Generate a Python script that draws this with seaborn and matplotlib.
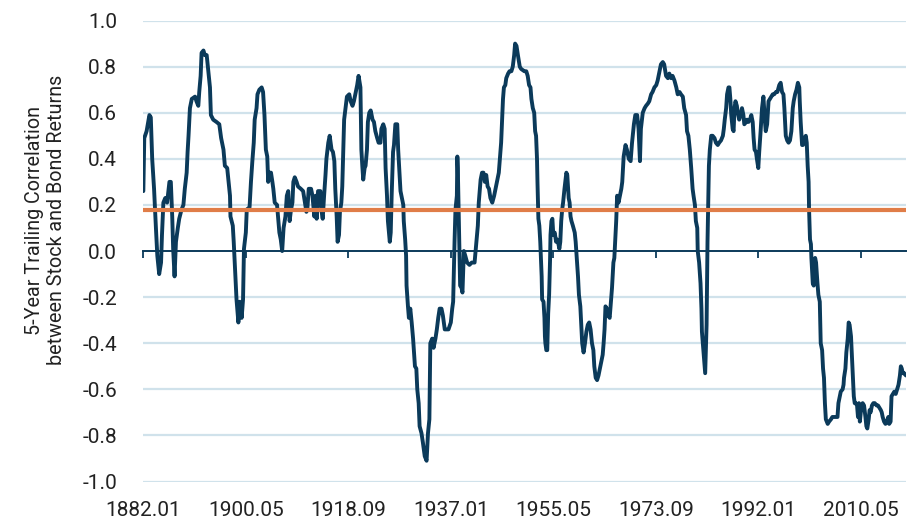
import matplotlib
matplotlib.use("Agg")
import pandas as pd
import matplotlib.pyplot as plt
import seaborn as sns

# months since 1882.01 and the trailing correlation
months = [
    0, 2, 7, 13, 16, 19, 23, 25, 27, 30, 34, 38, 40, 43, 47, 51, 56, 59, 62, 64,
    67, 70, 74, 77, 82, 86, 89, 93, 95, 97, 100, 104, 111, 114, 118, 120, 123, 125, 129, 132,
    136, 139, 143, 145, 150, 157, 163, 167, 172, 175, 180, 183, 186, 187, 192, 194,
    200, 204, 207, 211, 214, 216, 220, 222, 228, 231, 234, 237, 239, 243, 245, 249, 254, 257,
    260, 263, 266, 268, 270, 274, 277, 279, 282, 287, 290, 292, 295, 298, 301, 305, 308, 311,
    314, 317, 320, 322, 325, 329, 332, 338, 343, 347, 350, 352, 355, 360, 363, 367, 370, 372,
    375, 380, 382, 385, 388, 391, 393, 397, 400, 404,
    407, 410, 412, 415, 417, 420, 422, 425, 427, 429, 431, 434, 437, 442, 445, 449, 452, 455,
    459, 462, 466, 468, 470, 472, 475, 477, 480, 482, 485, 488, 492, 495, 498, 502, 505, 509,
    511, 515, 518, 520, 523, 525, 529, 531, 533, 536, 538, 541, 545, 547, 549, 552, 555, 558,
    559, 562, 564, 565, 568, 570, 573, 576, 579, 583, 586, 588, 591, 593, 597, 600, 604,
    608, 611, 614, 616, 620, 623, 627, 630, 633, 636, 640, 643, 647, 650, 655, 660, 663, 665,
    667, 668, 670, 673, 674, 675, 678, 680, 683, 685, 688, 691, 695, 700, 705, 711, 715, 718,
    720, 724, 727, 730, 733, 736, 739, 742, 745, 749, 753, 756, 759, 763, 765, 768, 770, 772,
    774, 777, 779, 783, 786, 790, 793, 796, 798, 801, 804, 808, 811,
    818, 822, 825, 828, 831, 833, 836, 839, 841, 843, 845, 846, 848, 850, 852, 855, 856, 859,
    861, 862, 863, 865, 867, 869, 871, 873, 874, 876, 878, 880, 883, 886, 888, 890, 893, 895,
    897, 899, 901, 904, 908, 910, 913, 915, 917, 919, 922, 926, 928, 930, 933, 935, 938, 940,
    942, 945, 948, 951, 954, 957, 960, 963, 966, 968, 971, 974, 977, 980, 983, 986, 988, 990,
    992, 995, 998, 1001, 1003, 1006, 1009,
    1011, 1015, 1017, 1020, 1023, 1026, 1028, 1031, 1035, 1038, 1042, 1046, 1049, 1053, 1056,
    1060, 1063, 1066, 1068, 1072, 1076, 1079, 1083, 1086, 1090, 1093, 1097, 1101, 1104, 1108,
    1111, 1115, 1118, 1122, 1126, 1129, 1133, 1136, 1140, 1144, 1147, 1151, 1154, 1158, 1161,
    1165, 1167, 1170, 1173, 1176, 1179, 1181, 1184, 1186, 1189, 1190, 1193, 1196, 1198, 1199,
    1201, 1204, 1206, 1207, 1209, 1210, 1211, 1214, 1216,
    1219, 1222, 1226, 1229, 1233, 1236, 1240, 1244, 1246, 1248, 1251, 1253, 1256, 1258, 1260,
    1262, 1265, 1267, 1269, 1271, 1274, 1276, 1279, 1282, 1285, 1288, 1290, 1294, 1296, 1299,
    1302, 1305, 1308, 1310, 1312, 1315, 1317, 1320, 1322, 1325, 1328, 1331, 1334, 1336, 1339,
    1342, 1345, 1348, 1351, 1354, 1358, 1361, 1365, 1368, 1371, 1374, 1376, 1379, 1382, 1385,
    1388, 1391, 1394, 1396, 1399, 1402, 1405, 1408, 1409, 1411, 1414, 1416, 1419, 1422,
    1424, 1426, 1428, 1429, 1431, 1433, 1434, 1437, 1439, 1442, 1444, 1446, 1447, 1449, 1452,
    1454, 1457, 1459, 1461, 1463, 1465, 1469, 1472, 1476, 1479, 1483, 1487, 1490, 1492, 1494,
    1497, 1501, 1503, 1504, 1507, 1509, 1512, 1514, 1516, 1519, 1521, 1523, 1525, 1527, 1529,
    1532, 1534, 1536, 1538, 1540, 1542, 1544, 1547, 1550, 1552, 1554, 1557, 1559, 1561, 1564,
    1567, 1570, 1574, 1577, 1580, 1583, 1585, 1587, 1590, 1593, 1596, 1599, 1601, 1604, 1606,
    1609, 1612, 1615, 1618, 1621, 1624, 1626, 1628, 1630, 1633, 1637,
]
corr = [
    0.26, 0.49, 0.52, 0.59, 0.58, 0.40, 0.27, 0.18, 0.10, -0.02, -0.10, -0.05, 0.07, 0.21, 0.23, 0.21, 0.30, 0.30, 0.15, 0.01,
    -0.11, 0.04, 0.10, 0.14, 0.18, 0.20, 0.27, 0.34, 0.43, 0.50, 0.62, 0.66, 0.67, 0.65, 0.63, 0.69, 0.76, 0.86, 0.87, 0.85,
    0.85, 0.79, 0.71, 0.59, 0.57, 0.56, 0.55, 0.49, 0.44, 0.37, 0.36, 0.30, 0.24, 0.15, 0.11, 0.04,
    -0.21, -0.31, -0.22, -0.29, -0.21, 0.01, 0.08, 0.18, 0.19, 0.30, 0.39, 0.47, 0.57, 0.62, 0.68, 0.70, 0.71, 0.69,
    0.59, 0.44, 0.41, 0.30, 0.34, 0.34, 0.30, 0.27, 0.21, 0.20, 0.13, 0.08, 0.05, 0.00, 0.10, 0.15, 0.24, 0.26,
    0.13, 0.18, 0.21, 0.30, 0.32, 0.30, 0.28, 0.27, 0.26, 0.21, 0.17, 0.18, 0.27, 0.27, 0.24, 0.15, 0.24, 0.14,
    0.26, 0.26, 0.18, 0.14, 0.24, 0.33, 0.40, 0.47, 0.50, 0.44,
    0.43, 0.39, 0.27, 0.15, 0.04, 0.07, 0.17, 0.21, 0.28, 0.43, 0.57, 0.62, 0.67, 0.68, 0.65, 0.63, 0.65, 0.68,
    0.72, 0.76, 0.71, 0.44, 0.37, 0.31, 0.36, 0.37, 0.44, 0.56, 0.60, 0.61, 0.57, 0.56, 0.52, 0.49, 0.47, 0.47,
    0.53, 0.55, 0.53, 0.36, 0.24, 0.13, 0.04, 0.08, 0.24, 0.43, 0.46, 0.55, 0.55, 0.44, 0.37, 0.26, 0.23, 0.20,
    0.13, 0.05, -0.02, -0.15, -0.24, -0.29, -0.25, -0.31, -0.38, -0.50, -0.51, -0.60, -0.66, -0.76, -0.79, -0.83, -0.89,
    -0.91, -0.79, -0.73, -0.40, -0.38, -0.42, -0.38, -0.34, -0.29, -0.25, -0.25, -0.28, -0.34, -0.34, -0.34, -0.31, -0.25, -0.22,
    -0.05, 0.04, 0.18, 0.24, 0.41, 0.36, 0.04, -0.15, -0.16, -0.18, 0.00, -0.02, -0.05, -0.06, -0.05, -0.05, 0.04, 0.11,
    0.21, 0.31, 0.34, 0.34, 0.30, 0.33, 0.28, 0.27, 0.23, 0.21, 0.24, 0.27, 0.30, 0.34, 0.39, 0.47, 0.57, 0.66,
    0.71, 0.72, 0.75, 0.77, 0.78, 0.78, 0.80, 0.85, 0.90, 0.89, 0.85, 0.80, 0.79,
    0.78, 0.78, 0.76, 0.72, 0.71, 0.66, 0.62, 0.60, 0.52, 0.50, 0.40, 0.30, 0.14, 0.11, 0.04, -0.11, -0.21, -0.22,
    -0.29, -0.37, -0.40, -0.43, -0.43, -0.27, -0.19, -0.04, 0.07, 0.13, 0.14, 0.07, 0.08, 0.04, 0.05, 0.04, 0.01, 0.04,
    0.13, 0.18, 0.21, 0.27, 0.34, 0.33, 0.23, 0.21, 0.15, 0.13, 0.11, 0.08, 0.04, -0.02, -0.11, -0.19, -0.24, -0.32,
    -0.40, -0.44, -0.40, -0.35, -0.32, -0.31, -0.34, -0.40, -0.43, -0.50, -0.55, -0.56, -0.54, -0.51, -0.48, -0.45, -0.40, -0.34,
    -0.24, -0.25, -0.28, -0.29, -0.24, -0.16, -0.05,
    -0.03, 0.13, 0.24, 0.21, 0.24, 0.27, 0.30, 0.41, 0.46, 0.44, 0.40, 0.39, 0.47, 0.55, 0.59,
    0.59, 0.53, 0.39, 0.53, 0.60, 0.62, 0.63, 0.64, 0.65, 0.68, 0.69, 0.71, 0.72, 0.74, 0.78,
    0.81, 0.82, 0.81, 0.76, 0.75, 0.77, 0.75, 0.76, 0.74, 0.71, 0.68, 0.69, 0.68, 0.67, 0.62,
    0.59, 0.52, 0.50, 0.44, 0.36, 0.27, 0.24, 0.20, 0.13, 0.10, 0.00, -0.05, -0.14, -0.25, -0.35,
    -0.40, -0.47, -0.53, -0.46, -0.32, -0.14, 0.04, 0.37, 0.44,
    0.50, 0.50, 0.49, 0.47, 0.46, 0.47, 0.48, 0.50, 0.53, 0.57, 0.62, 0.68, 0.71, 0.71, 0.66,
    0.59, 0.53, 0.52, 0.62, 0.65, 0.63, 0.60, 0.57, 0.59, 0.62, 0.59, 0.55, 0.56, 0.57, 0.56,
    0.57, 0.59, 0.56, 0.49, 0.44, 0.43, 0.40, 0.36, 0.43, 0.52, 0.62, 0.67, 0.57, 0.52, 0.55,
    0.65, 0.66, 0.67, 0.68, 0.68, 0.69, 0.69, 0.72, 0.73, 0.69, 0.68, 0.62, 0.50, 0.48, 0.47,
    0.48, 0.52, 0.62, 0.65, 0.68, 0.70, 0.73, 0.71, 0.65, 0.56, 0.46, 0.46, 0.49, 0.50,
    0.47, 0.37, 0.30, 0.18, 0.05, 0.03, -0.03, -0.14, -0.15, -0.03, -0.05, -0.11, -0.14, -0.19, -0.22,
    -0.40, -0.43, -0.51, -0.55, -0.66, -0.73, -0.75, -0.74, -0.73, -0.72, -0.72, -0.72, -0.72, -0.66, -0.64,
    -0.61, -0.60, -0.58, -0.55, -0.51, -0.44, -0.38, -0.31, -0.32, -0.37, -0.46, -0.55, -0.63, -0.66, -0.66,
    -0.67, -0.72, -0.66, -0.74, -0.70, -0.67, -0.66, -0.67, -0.72, -0.76, -0.77, -0.73, -0.69, -0.70, -0.67,
    -0.66, -0.66, -0.67, -0.67, -0.68, -0.69, -0.70, -0.72, -0.74, -0.75, -0.74, -0.72, -0.75, -0.74, -0.63,
    -0.62, -0.61, -0.62, -0.60, -0.58, -0.54, -0.50, -0.51, -0.53, -0.53, -0.54,
]

# long-run average correlation (orange reference line)
avg_corr = 0.18

tick_months = [0, 220, 440, 660, 880, 1100, 1320, 1540]
tick_labels = ['1882.01', '1900.05', '1918.09', '1937.01', '1955.05', '1973.09', '1992.01', '2010.05']
y_ticks = [-1.0, -0.8, -0.6, -0.4, -0.2, 0.0, 0.2, 0.4, 0.6, 0.8, 1.0]

navy = '#0b3a5a'
orange = '#e07d48'
grid_col = '#d0e2eb'
text_col = '#222222'

df = pd.DataFrame({'month': months, 'corr': corr})

sns.set_style('white')
plt.rcParams['font.family'] = ['Roboto', 'DejaVu Sans']

fig = plt.figure(figsize=(9.13, 5.27), dpi=100)
ax = fig.add_axes([0.157, 0.0863, 0.8353, 0.8747])

sns.lineplot(data=df, x='month', y='corr', color=navy, linewidth=2.8, ax=ax, zorder=3)
ax.axhline(avg_corr, color=orange, linewidth=3.0, zorder=5)

ax.set_xlim(0, months[-1])
ax.set_ylim(-1.0, 1.0)

ax.set_xticks(tick_months)
ax.set_xticklabels(tick_labels)
ax.set_yticks(y_ticks)
ax.set_yticklabels(['%.1f' % v for v in y_ticks])
ax.tick_params(axis='x', length=0, pad=14, labelsize=15, labelcolor=text_col)
ax.tick_params(axis='y', length=0, pad=19, labelsize=15, labelcolor=text_col)

ax.yaxis.grid(True, color=grid_col, linewidth=1.6)
ax.xaxis.grid(False)
for t, v in zip(ax.yaxis.get_major_ticks(), y_ticks):
    if v == 0.0:
        t.gridline.set_visible(False)
for s in ax.spines.values():
    s.set_visible(False)

# zero line with small ticks pointing down
zero_ax = ax.secondary_xaxis(0.5)
zero_ax.set_alignment('bottom')
zero_ax.set_xticks(tick_months)
zero_ax.tick_params(axis='x', direction='out', length=5, width=1.3, color=navy,
                    labelbottom=False, labeltop=False)
zero_ax.spines['bottom'].set_color(navy)
zero_ax.spines['bottom'].set_linewidth(1.4)

ax.set_xlabel('')
ax.set_ylabel('5-Year Trailing Correlation\nbetween Stock and Bond Returns',
              fontsize=14.2, color=text_col, linespacing=1.15)
ax.yaxis.set_label_coords(-0.102, 0.567)

fig.savefig('out.png', dpi=100)
